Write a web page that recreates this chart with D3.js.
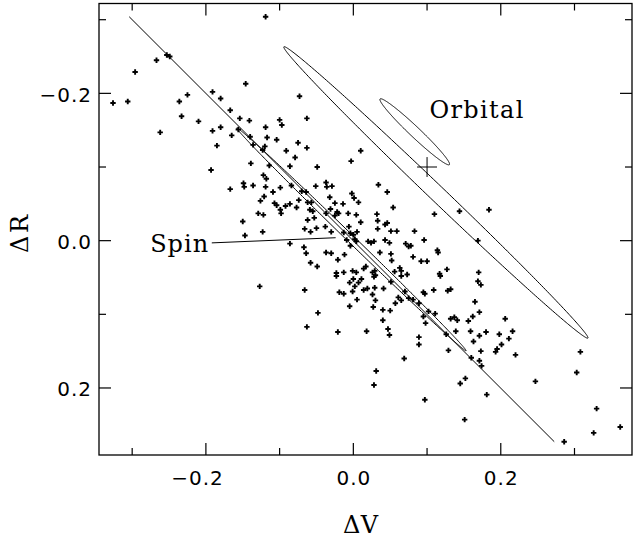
<!DOCTYPE html>
<html><head><meta charset="utf-8">
<script src="https://cdn.jsdelivr.net/npm/d3@7"></script>
<style>html,body{margin:0;padding:0;background:#fff;} svg{display:block}</style>
</head><body>
<svg id="c" width="633" height="538"></svg>
<script>
// ---------------- data ----------------
const xDomain = [-0.345, 0.378];   // ΔV
const yDomain = [-0.322, 0.291];   // ΔR (increasing downward)
const majorTicks = [-0.2, 0, 0.2];
const minorTicks = [-0.3, -0.1, 0.1, 0.3];
const tickLabels = ["−0.2", "0.0", "0.2"];
const xTitle = "ΔV";
const yTitle = "ΔR";

// stars: [ΔV, ΔR]
const stars = [
[-0.326,-0.187],[-0.306,-0.189],[-0.296,-0.229],[-0.267,-0.245],[-0.253,-0.252],[-0.249,-0.250],[-0.262,-0.147],[-0.236,-0.189],[-0.225,-0.198],[-0.233,-0.169],
[-0.210,-0.162],[-0.191,-0.202],[-0.180,-0.193],[-0.191,-0.149],[-0.180,-0.154],[-0.146,-0.213],[-0.119,-0.304],[-0.167,-0.177],[-0.154,-0.166],[-0.141,-0.163],
[-0.156,-0.151],[-0.165,-0.143],[-0.140,-0.141],[-0.185,-0.129],[-0.193,-0.096],[-0.139,-0.105],[-0.119,-0.154],[-0.117,-0.140],[-0.104,-0.137],[-0.100,-0.164],
[-0.097,-0.157],[-0.073,-0.196],[-0.063,-0.166],[-0.075,-0.133],[-0.063,-0.126],[-0.091,-0.122],[-0.079,-0.113],[-0.120,-0.128],[-0.123,-0.123],[-0.086,-0.101],
[-0.049,-0.100],[-0.167,-0.070],[-0.149,-0.078],[-0.148,-0.073],[-0.136,-0.075],[-0.122,-0.089],[-0.118,-0.084],[-0.119,-0.073],[-0.109,-0.066],[-0.099,-0.072],
[-0.084,-0.075],[-0.070,-0.067],[-0.064,-0.066],[-0.126,-0.054],[-0.121,-0.060],[-0.107,-0.051],[-0.104,-0.048],[-0.099,-0.042],[-0.092,-0.047],[-0.086,-0.050],
[-0.077,-0.045],[-0.129,-0.037],[-0.122,-0.035],[-0.150,-0.026],[-0.123,-0.012],[-0.147,-0.007],[-0.074,-0.055],[-0.114,-0.102],[-0.136,-0.130],[-0.098,-0.037],
[-0.066,-0.016],[-0.058,-0.012],[-0.050,-0.017],[-0.086,0.004],[-0.067,0.009],[-0.064,0.017],[-0.058,0.030],[-0.049,0.035],[-0.127,0.062],[-0.066,0.067],
[-0.048,0.098],[-0.063,0.117],
[-0.003,-0.108],[0.010,-0.122],[0.034,-0.076],[0.046,-0.066],[0.054,-0.045],[-0.051,-0.074],[-0.037,-0.079],[-0.036,-0.073],[-0.029,-0.074],[-0.032,-0.059],
[-0.002,-0.064],[0.001,-0.058],[0.007,-0.052],[-0.025,-0.051],[-0.014,-0.050],[-0.062,-0.052],[-0.057,-0.052],[-0.059,-0.042],[-0.055,-0.040],[-0.062,-0.028],
[-0.053,-0.031],[-0.037,-0.037],[-0.031,-0.043],[-0.022,-0.039],[-0.020,-0.037],[-0.025,-0.034],[-0.007,-0.037],[0.004,-0.035],[0.010,-0.025],[0.032,-0.036],
[0.033,-0.027],[0.033,-0.016],[0.043,-0.022],[0.046,-0.024],[-0.006,-0.019],[-0.038,-0.019],[-0.030,-0.012],[-0.013,-0.011],[-0.004,-0.010],[0.000,-0.008],
[0.005,-0.012],[-0.009,-0.001],[0.002,-0.002],[0.004,0.001],[0.020,0.001],[0.024,0.003],[0.028,0.001],[0.043,-0.001],[0.049,0.003],[0.071,0.004],
[0.051,-0.013],[0.059,-0.013],[0.083,-0.013],[0.110,-0.036],[0.144,-0.040],[0.184,-0.042],[0.096,-0.001],[0.169,0.000],[0.114,0.013],[0.115,0.016],
[0.081,0.022],[0.092,0.028],[0.100,0.028],[0.127,0.039],[-0.037,0.016],[-0.030,0.017],[-0.021,0.026],[-0.012,0.019],[-0.004,0.007],[0.017,0.035],
[0.014,0.038],[0.051,0.018],[0.063,0.037],[0.075,0.008],[0.078,0.007],[0.036,0.016],[0.052,0.027],[0.056,0.042],[0.065,0.041],[0.073,0.046],
[0.065,0.048],[-0.023,0.044],[-0.023,0.048],[-0.013,0.043],[-0.001,0.041],[0.004,0.043],[-0.005,0.057],[0.000,0.052],[0.002,0.062],[-0.001,0.069],
[0.007,0.057],[0.011,0.052],[0.026,0.043],[0.029,0.041],[0.030,0.047],[0.028,0.049],[0.014,0.067],[0.019,0.065],[0.029,0.064],[0.026,0.073],
[0.030,0.081],[0.005,0.080],[-0.005,0.089],[0.027,0.090],[-0.019,0.070],[-0.013,0.072],[0.041,0.065],[0.051,0.056],[0.070,0.069],[0.061,0.077],
[0.065,0.081],[0.057,0.085],[0.075,0.078],[0.081,0.080],[0.089,0.085],[0.040,0.094],[0.050,0.095],[0.040,0.108],[0.047,0.120],[0.049,0.128],
[0.018,0.123],[-0.021,0.124],[0.069,0.160],[0.031,0.177],[0.028,0.196],[0.089,0.131],[0.089,0.141],[0.097,0.216],[0.117,0.045],[0.118,0.048],
[0.170,0.043],[0.169,0.055],[0.173,0.060],[0.095,0.070],[0.097,0.072],[0.109,0.067],[0.128,0.068],[0.132,0.066],[0.165,0.083],[0.171,0.097],
[0.206,0.106],[0.102,0.096],[0.111,0.099],[0.095,0.103],[0.098,0.112],[0.132,0.106],[0.137,0.104],[0.141,0.108],[0.156,0.109],[0.162,0.103],
[0.139,0.123],[0.159,0.123],[0.171,0.129],[0.180,0.124],[0.163,0.137],[0.126,0.127],[0.129,0.149],[0.173,0.150],[0.160,0.159],[0.171,0.163],
[0.174,0.170],[0.198,0.127],[0.201,0.141],[0.211,0.133],[0.216,0.123],[0.193,0.151],[0.195,0.147],[0.220,0.155],[0.247,0.191],[0.152,0.187],
[0.145,0.194],[0.181,0.209],[0.151,0.243],[0.308,0.151],[0.303,0.179],[0.330,0.228],[0.326,0.261],[0.362,0.253],[0.286,0.273]
];

// spin relation line (ΔR = ΔV)
const spinLine = [[-0.304,-0.304],[0.2725,0.2729]];
// pointer from "Spin" label
const spinPointer = [[-0.192,0.003],[-0.024,-0.004]];
// ellipses: [centre ΔV, centre ΔR, semi-major, semi-minor, angle (deg)]
const ellipses = [
  [-0.0026,-0.0018,0.2170,0.0050,44.2],
  [ 0.1120,-0.0655,0.2857,0.0106,43.8],
  [ 0.0833,-0.1478,0.0648,0.0070,43.5]
];
const crossPoint = [0.1,-0.1];
const crossArm = 0.0135;
const annotations = [
  {text:"Orbital", v:0.1032, r:-0.1662, len:94},
  {text:"Spin",    v:-0.2756, r:0.0155, len:58}
];

// ---------------- drawing ----------------
const svg = d3.select("#c");
const L = 99, R = 632, T = 3.5, B = 455;
const x = d3.scaleLinear().domain(xDomain).range([L, R]);
const y = d3.scaleLinear().domain(yDomain).range([T, B]);
const inX = v => v >= xDomain[0] && v <= xDomain[1];
const inY = v => v >= yDomain[0] && v <= yDomain[1];

// inward ticks on all four sides
const tickG = svg.append("g").attr("stroke", "#000").attr("stroke-width", 1.2);
[[majorTicks, 12], [minorTicks, 7]].forEach(([vals, len]) => {
  vals.filter(inX).forEach(v => {
    const px = x(v);
    tickG.append("line").attr("x1", px).attr("x2", px).attr("y1", B).attr("y2", B - len);
    tickG.append("line").attr("x1", px).attr("x2", px).attr("y1", T).attr("y2", T + len);
  });
  vals.filter(inY).forEach(v => {
    const py = y(v);
    tickG.append("line").attr("y1", py).attr("y2", py).attr("x1", L).attr("x2", L + len);
    tickG.append("line").attr("y1", py).attr("y2", py).attr("x1", R).attr("x2", R - len);
  });
});

svg.append("rect").attr("x", L).attr("y", T).attr("width", R - L).attr("height", B - T)
  .attr("fill", "none").attr("stroke", "#000").attr("stroke-width", 1.3);

const tickFont = "'DejaVu Sans', sans-serif";
// x tick labels: unsigned part centred on the tick
majorTicks.forEach((t, i) => {
  const lab = tickLabels[i];
  const tx = svg.append("text").attr("font-family", tickFont).attr("font-size", 20)
    .attr("letter-spacing", 1).attr("y", 485).text(lab);
  const W = tx.node().getComputedTextLength();
  const unsigned = lab.replace("−", "");
  const tmp = svg.append("text").attr("font-family", tickFont).attr("font-size", 20)
    .attr("letter-spacing", 1).text(unsigned);
  const U = tmp.node().getComputedTextLength();
  tmp.remove();
  tx.attr("x", x(t) + U / 2 - W + 0.5);
});
// y tick labels
majorTicks.forEach((t, i) => {
  svg.append("text").attr("font-family", tickFont).attr("font-size", 20)
    .attr("letter-spacing", 1).attr("text-anchor", "end")
    .attr("x", 92).attr("y", y(t) + 8.5).text(tickLabels[i]);
});

const serif = "'DejaVu Serif', serif";
svg.append("text").attr("font-family", serif).attr("font-size", 24)
  .attr("x", 343).attr("y", 533).attr("textLength", 35).attr("lengthAdjust", "spacing")
  .text(xTitle);
svg.append("text").attr("font-family", serif).attr("font-size", 24)
  .attr("transform", "translate(28,253) rotate(-90)")
  .attr("textLength", 38).attr("lengthAdjust", "spacing").text(yTitle);

const line = d3.line().x(d => x(d[0])).y(d => y(d[1]));
const closed = d3.line().x(d => x(d[0])).y(d => y(d[1])).curve(d3.curveLinearClosed);
function styl(sel) { return sel.attr("stroke", "#000").attr("stroke-width", 1).attr("fill", "none"); }

styl(svg.append("path").attr("d", line(spinLine)));
styl(svg.append("path").attr("d", line(spinPointer)));

ellipses.forEach(([cv, cr, a, b, ang]) => {
  const th = ang * Math.PI / 180;
  const pts = d3.range(0, 360, 1).map(deg => {
    const t = deg * Math.PI / 180;
    return [cv + a * Math.cos(t) * Math.cos(th) - b * Math.sin(t) * Math.sin(th),
            cr + a * Math.cos(t) * Math.sin(th) + b * Math.sin(t) * Math.cos(th)];
  });
  styl(svg.append("path").attr("d", closed(pts)));
});

styl(svg.append("path").attr("d",
  line([[crossPoint[0] - crossArm, crossPoint[1]], [crossPoint[0] + crossArm, crossPoint[1]]]) +
  line([[crossPoint[0], crossPoint[1] - crossArm], [crossPoint[0], crossPoint[1] + crossArm]])));

svg.append("g").selectAll("path").data(stars).join("path")
  .attr("transform", d => `translate(${x(d[0])},${y(d[1])})`)
  .attr("d", "M-2.7,0H2.7M0,-2.7V2.7")
  .attr("stroke", "#000").attr("stroke-width", 1.9).attr("fill", "none");

annotations.forEach(a => {
  svg.append("text").attr("font-family", serif).attr("font-size", 24)
    .attr("x", x(a.v)).attr("y", y(a.r))
    .attr("textLength", a.len).attr("lengthAdjust", "spacing").text(a.text);
});
</script>
</body></html>
